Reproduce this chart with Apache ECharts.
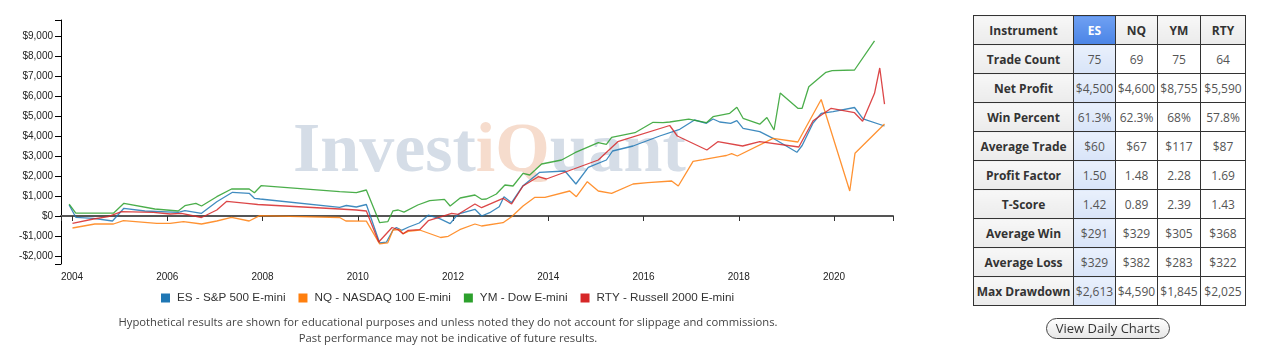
<!DOCTYPE html>
<html>
<head>
<meta charset="utf-8">
<script src="https://cdn.jsdelivr.net/npm/echarts@6/dist/echarts.min.js"></script>
<style>
  html, body { margin: 0; padding: 0; background: #fff; width: 1272px; height: 351px; overflow: hidden; }
  #chart { position: absolute; left: 0; top: 0; width: 896px; height: 351px; }
  #note { position: absolute; left: 0; top: 314px; width: 896px; text-align: center;
          font-family: "Open Sans", sans-serif; font-size: 11.25px; line-height: 16px; color: #444; }
  #stats { position: absolute; left: 973px; top: 15px; border-collapse: collapse; table-layout: fixed;
           font-family: "Open Sans", sans-serif; font-size: 12px; }
  #stats td, #stats th { border: 1px solid #333; height: 28px; padding: 0; text-align: center; color: #555; font-weight: normal; white-space: nowrap; }
  #stats th.lbl, #stats td.lbl { background: linear-gradient(#f7f7f7, #ebebeb); color: #333; font-weight: bold; }
  #stats th.hd { background: linear-gradient(#f7f7f7, #ebebeb); color: #333; font-weight: bold; }
  #stats th.sel { background: linear-gradient(#6fa0f2, #4a84e6); color: #fff; font-weight: bold; }
  #stats td.sel { background: linear-gradient(#e9f0fc, #d8e4f8); }
  #btn { position: absolute; left: 1046px; top: 318px; width: 122px; height: 19px; border: 1px solid #444;
         border-radius: 11px; background: linear-gradient(#ffffff, #e6e6e6); text-align: center;
         font-family: "Open Sans", sans-serif; font-size: 13px; line-height: 19px; color: #333; }
</style>
</head>
<body>
<div id="chart"></div>
<div id="note">Hypothetical results are shown for educational purposes and unless noted they do not account for slippage and commissions.<br>Past performance may not be indicative of future results.</div>
<table id="stats"></table>
<div id="btn">View Daily Charts</div>
<script>
// ---- chart data: [year, cumulative profit $] ----
const seriesNames = ['ES - S&P 500 E-mini', 'NQ - NASDAQ 100 E-mini', 'YM - Dow E-mini', 'RTY - Russell 2000 E-mini'];
const seriesColors = ['#1f77b4', '#ff7f0e', '#2ca02c', '#d62728'];

const esData = [
  [2003.94, 550], [2004.08, -65], [2004.45, -115], [2004.85, -250], [2005.09, 385], [2005.53, 250],
  [2006.23, 185], [2006.37, 265], [2006.72, 135], [2007.04, 715], [2007.37, 1185], [2007.72, 1135],
  [2007.83, 885], [2007.95, 850], [2009.62, 435], [2009.76, 525], [2009.97, 450], [2010.18, 575],
  [2010.46, -1350], [2010.60, -1310], [2010.74, -700], [2010.81, -575], [2010.92, -715], [2011.07, -550],
  [2011.29, -350], [2011.48, 40], [2011.72, -135], [2011.94, -385], [2012.07, 0], [2012.14, 120],
  [2012.46, 335], [2012.60, 0], [2012.77, 165], [2012.97, 465], [2013.07, 965], [2013.23, 665],
  [2013.47, 1515], [2013.82, 2185], [2014.35, 2250], [2014.58, 1600], [2014.84, 2435], [2015.22, 2800],
  [2015.35, 3250], [2015.78, 3500], [2016.34, 4000], [2016.76, 4335], [2017.07, 4800], [2017.32, 4635],
  [2017.46, 4850], [2017.60, 4700], [2017.83, 4635], [2017.96, 4765], [2018.09, 4385], [2018.44, 4215],
  [2018.72, 3885], [2019.22, 3185], [2019.33, 3525], [2019.56, 4650], [2019.73, 5135], [2019.98, 5215],
  [2020.43, 5425], [2020.61, 4860], [2021.06, 4500]
];
const nqData = [
  [2004.01, -600], [2004.48, -400], [2004.87, -400], [2005.08, -235], [2005.78, -365], [2006.06, -365],
  [2006.34, -285], [2006.72, -400], [2007.04, -250], [2007.35, -65], [2007.72, -250], [2007.94, 15],
  [2009.62, -75], [2009.75, -250], [2010.18, -260], [2010.46, -1390], [2010.63, -1340], [2010.74, -700],
  [2010.88, -675], [2010.95, -890], [2011.06, -765], [2011.30, -700], [2011.74, -1075], [2011.90, -1015],
  [2012.14, -685], [2012.46, -400], [2012.60, -500], [2013.05, -335], [2013.23, -35], [2013.47, 500],
  [2013.72, 935], [2013.93, 935], [2014.45, 1250], [2014.59, 965], [2014.82, 1715], [2015.05, 1250],
  [2015.33, 1135], [2015.78, 1600], [2016.09, 1665], [2016.59, 1750], [2016.73, 1500], [2017.04, 2735],
  [2017.25, 2815], [2017.60, 2965], [2017.74, 3025], [2017.85, 3115], [2017.97, 3000], [2018.72, 3885],
  [2019.24, 3700], [2019.73, 5825], [2020.33, 1250], [2020.44, 3135], [2021.06, 4600]
];
const ymData = [
  [2003.94, 590], [2004.08, 140], [2004.87, 140], [2005.09, 635], [2005.74, 350], [2006.23, 250],
  [2006.37, 515], [2006.60, 635], [2006.72, 500], [2007.04, 965], [2007.35, 1350], [2007.72, 1350],
  [2007.83, 1165], [2007.97, 1515], [2009.62, 1215], [2009.97, 1165], [2010.18, 1300], [2010.46, -335],
  [2010.63, -285], [2010.74, 260], [2010.85, 300], [2010.97, 190], [2011.26, 550], [2011.51, 765],
  [2011.82, 835], [2011.94, 500], [2012.15, 900], [2012.46, 1050], [2012.60, 835], [2012.70, 850],
  [2012.91, 1100], [2013.09, 1550], [2013.26, 1500], [2013.47, 2135], [2013.61, 2050], [2013.86, 2600],
  [2014.28, 2800], [2014.56, 3165], [2015.05, 3665], [2015.22, 3585], [2015.33, 3935], [2015.82, 4165],
  [2016.20, 4685], [2016.41, 4665], [2016.55, 4700], [2016.95, 4840], [2017.32, 4665], [2017.46, 4965],
  [2017.81, 5135], [2017.96, 5435], [2018.09, 4885], [2018.44, 4590], [2018.59, 4925], [2018.74, 4300],
  [2018.87, 6150], [2019.24, 5385], [2019.33, 5385], [2019.47, 6465], [2019.83, 7185], [2019.96, 7265],
  [2020.43, 7300], [2020.85, 8755]
];
const rtyData = [
  [2004.01, -365], [2004.45, -150], [2004.76, -35], [2005.04, 215], [2005.71, 185], [2006.06, 100],
  [2006.30, 135], [2006.72, -75], [2007.04, 300], [2007.25, 735], [2007.67, 635], [2007.90, 575],
  [2009.62, 350], [2009.97, 300], [2010.18, 250], [2010.44, -1300], [2010.72, -575], [2010.84, -675],
  [2010.95, -885], [2011.06, -715], [2011.30, -685], [2011.48, -235], [2011.76, -35], [2011.97, 135],
  [2012.11, 85], [2012.46, 600], [2012.60, 415], [2013.05, 885], [2013.23, 600], [2013.47, 1500],
  [2013.79, 1965], [2013.96, 1850], [2015.05, 2800], [2015.46, 3715], [2016.55, 4525], [2016.71, 4000],
  [2017.33, 3300], [2017.56, 3715], [2018.08, 3500], [2018.44, 3715], [2019.26, 3450], [2019.56, 4765],
  [2019.94, 5385], [2020.43, 5165], [2020.60, 4735], [2020.85, 6135], [2020.96, 7400], [2021.06, 5590]
];

const xLabelYears = [2004, 2006, 2008, 2010, 2012, 2014, 2016, 2018, 2020];
const yLabelValues = [-2000, -1000, 0, 1000, 2000, 3000, 4000, 5000, 6000, 7000, 8000, 9000];

// ---- table data ----
const instruments = ['ES', 'NQ', 'YM', 'RTY'];
const rowLabels = ['Trade Count', 'Net Profit', 'Win Percent', 'Average Trade', 'Profit Factor', 'T-Score', 'Average Win', 'Average Loss', 'Max Drawdown'];
const tradeCount = ['75', '69', '75', '64'];
const netProfit = ['$4,500', '$4,600', '$8,755', '$5,590'];
const winPercent = ['61.3%', '62.3%', '68%', '57.8%'];
const averageTrade = ['$60', '$67', '$117', '$87'];
const profitFactor = ['1.50', '1.48', '2.28', '1.69'];
const tScore = ['1.42', '0.89', '2.39', '1.43'];
const averageWin = ['$291', '$329', '$305', '$368'];
const averageLoss = ['$329', '$382', '$283', '$322'];
const maxDrawdown = ['$2,613', '$4,590', '$1,845', '$2,025'];

// build table
(function () {
  const rows = [tradeCount, netProfit, winPercent, averageTrade, profitFactor, tScore, averageWin, averageLoss, maxDrawdown];
  const widths = [100, 42, 42, 43, 45];
  let html = '<colgroup>' + widths.map(w => '<col style="width:' + w + 'px">').join('') + '</colgroup>';
  html += '<tr><th class="lbl">Instrument</th>' + instruments.map((s, i) => '<th class="' + (i === 0 ? 'sel' : 'hd') + '">' + s + '</th>').join('') + '</tr>';
  rows.forEach((r, ri) => {
    html += '<tr><td class="lbl">' + rowLabels[ri] + '</td>' + r.map((v, i) => '<td' + (i === 0 ? ' class="sel"' : '') + '>' + v + '</td>').join('') + '</tr>';
  });
  document.getElementById('stats').innerHTML = html;
})();

const X_MIN = 2003.769, X_MAX = 2021.238, Y_MIN = -2400, Y_MAX = 9800;

function money(v) {
  const s = Math.abs(v).toLocaleString('en-US');
  return (v < 0 ? '-$' : '$') + s;
}

const chart = echarts.init(document.getElementById('chart'), null, { renderer: 'canvas' });
const allData = [esData, nqData, ymData, rtyData];
chart.setOption({
  animation: false,
  grid: { left: 61, top: 20, width: 832, height: 244, containLabel: false },
  graphic: [{
    type: 'text', left: 293, top: 118, z: 0, silent: true,
    style: {
      text: '{a|Invest}{b|iQ}{a|uant}',
      rich: {
        a: { fontFamily: '"Liberation Serif", serif', fontWeight: 'bold', fontSize: 70, fill: '#d5dde7' },
        b: { fontFamily: '"Liberation Serif", serif', fontWeight: 'bold', fontSize: 70, fill: '#f6dccd' }
      }
    }
  }],
  legend: {
    left: 156, top: 287, icon: 'rect', itemWidth: 9, itemHeight: 9, itemGap: 13,
    textStyle: { fontFamily: '"Liberation Sans", Arial, sans-serif', fontSize: 11.7, color: '#333', padding: [0, 0, 0, 2] },
    data: seriesNames
  },
  xAxis: {
    type: 'value', min: X_MIN, max: X_MAX,
    axisLine: { show: true, lineStyle: { color: '#555', width: 2 } },
    axisTick: { show: true, length: 5, lineStyle: { color: '#333', width: 1 }, customValues: [X_MIN].concat(xLabelYears, [X_MAX]) },
    axisLabel: { customValues: xLabelYears, fontFamily: '"Liberation Sans", Arial, sans-serif', fontSize: 10, color: '#222', margin: 8, formatter: v => String(Math.round(v)) },
    splitLine: { show: false }
  },
  yAxis: {
    type: 'value', min: Y_MIN, max: Y_MAX,
    axisLine: { show: true, lineStyle: { color: '#000', width: 1 } },
    axisTick: { show: true, length: 6, lineStyle: { color: '#000', width: 1 }, customValues: [Y_MIN].concat(yLabelValues, [Y_MAX]) },
    axisLabel: { customValues: yLabelValues, fontFamily: '"Liberation Sans", Arial, sans-serif', fontSize: 10, color: '#222', margin: 8, formatter: money },
    splitLine: { show: false }
  },
  series: seriesNames.map((name, i) => ({
    name: name, type: 'line', data: allData[i], showSymbol: false, symbol: 'none', z: 3,
    itemStyle: { color: seriesColors[i] },
    lineStyle: { color: seriesColors[i], width: 1.3, opacity: 0.85 }
  }))
});
</script>
</body>
</html>
